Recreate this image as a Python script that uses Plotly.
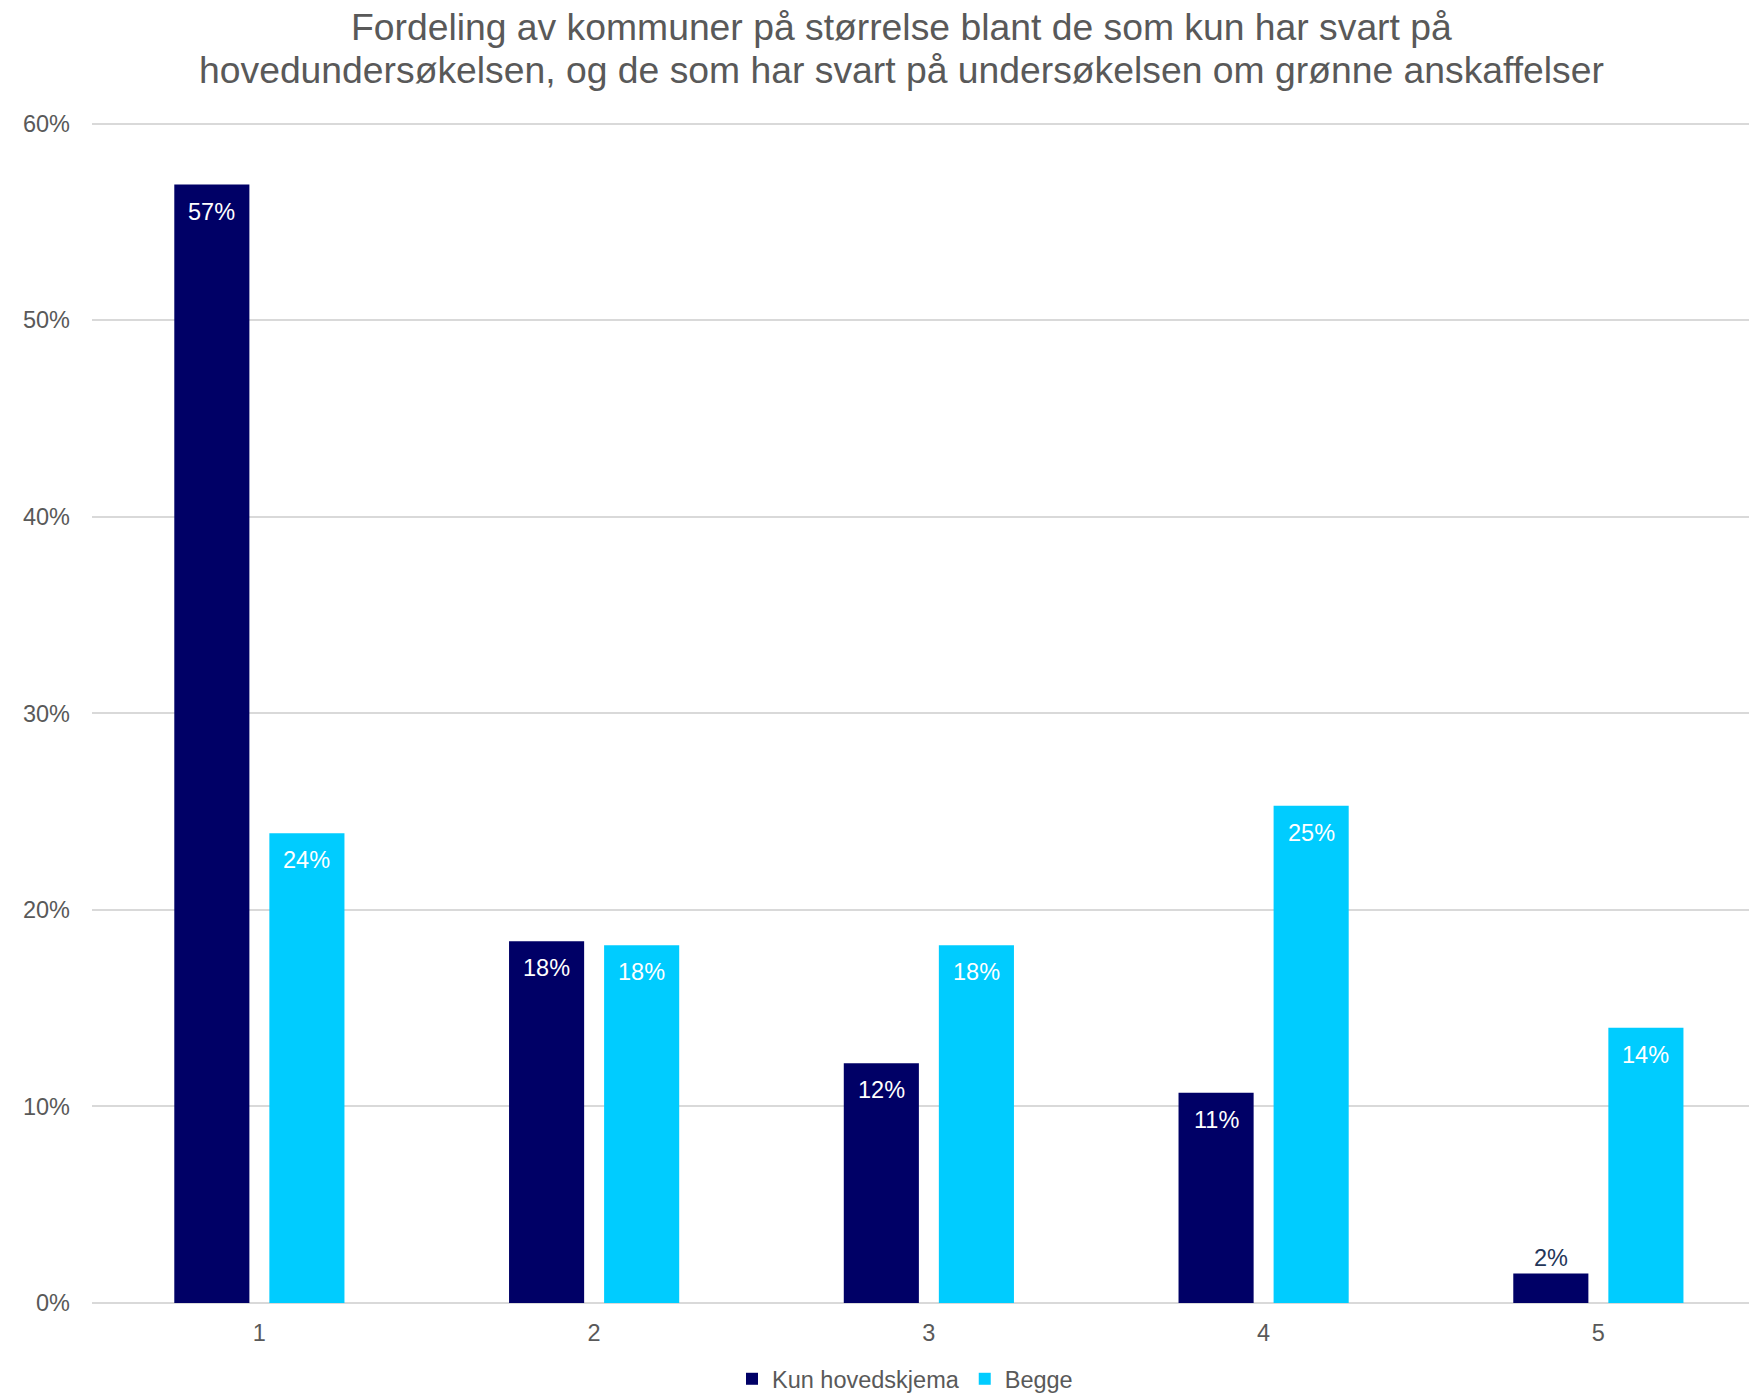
import plotly.graph_objects as go

categories = [1, 2, 3, 4, 5]
tick_labels = ["1", "2", "3", "4", "5"]
kun_hovedskjema = [0.569, 0.184, 0.122, 0.107, 0.015]
begge = [0.239, 0.182, 0.182, 0.253, 0.140]
series_names = ["Kun hovedskjema", "Begge"]
y_ticks = [0, 0.1, 0.2, 0.3, 0.4, 0.5, 0.6]
title_lines = ["Fordeling av kommuner på størrelse blant de som kun har svart på",
               "hovedundersøkelsen, og de som har svart på undersøkelsen om grønne anskaffelser"]

DARK = "#000066"
LIGHT = "#00CCFF"
GRAY = "#595959"
FONT = "Arial, Liberation Sans, sans-serif"
FS = 23.5
OFFSET = 0.142

W, H = 1749, 1396
ML, MR, MT, MB = 92, 0, 104, 93
PW, PH = W - ML - MR, H - MT - MB

fig = go.Figure()
fig.add_trace(go.Bar(x=categories, y=kun_hovedskjema, name=series_names[0],
                     marker=dict(color=DARK, line=dict(width=0))))
fig.add_trace(go.Bar(x=categories, y=begge, name=series_names[1],
                     marker=dict(color=LIGHT, line=dict(width=0))))

annotations = []
for vals, off in ((kun_hovedskjema, -OFFSET), (begge, OFFSET)):
    for c, v in zip(categories, vals):
        inside = v > 0.05
        annotations.append(dict(
            x=c + off, y=v, xref="x", yref="y", text=f"{round(v*100):.0f}%",
            showarrow=False, yanchor="middle",
            yshift=-27 if inside else 16,
            font=dict(family=FONT, size=FS, color="white" if inside else "#243659"),
        ))

for line, yc in zip(title_lines, (27, 70)):
    annotations.append(dict(
        x=(901 - ML) / PW, y=(H - MB - yc) / PH, xref="paper", yref="paper",
        text=line, showarrow=False, xanchor="center", yanchor="middle",
        font=dict(family=FONT, size=37.3, color=GRAY),
    ))

fig.update_layout(
    width=W, height=H,
    paper_bgcolor="white", plot_bgcolor="white",
    margin=dict(l=ML, r=MR, t=MT, b=MB, autoexpand=False),
    barmode="group", bargap=0.432, bargroupgap=0.21,
    font=dict(family=FONT, color=GRAY, size=FS),
    xaxis=dict(
        range=[0.5, 5.45], tickmode="array", tickvals=categories, ticktext=tick_labels,
        showgrid=False, zeroline=False, showline=False, ticks="",
        tickfont=dict(size=FS, color=GRAY), ticklabelstandoff=13, automargin=False,
    ),
    yaxis=dict(
        range=[0, 0.61], tickmode="array", tickvals=y_ticks, tickformat=".0%",
        showgrid=True, gridcolor="#D9D9D9", gridwidth=2,
        zeroline=True, zerolinecolor="#D9D9D9", zerolinewidth=2,
        showline=False, ticks="", tickfont=dict(size=FS, color=GRAY),
        ticklabelstandoff=21, automargin=False,
    ),
    legend=dict(
        orientation="h", xref="container", yref="container",
        x=905 / W, xanchor="center", y=(H - 1379) / H, yanchor="middle",
        font=dict(size=FS, color=GRAY), itemwidth=30, traceorder="normal",
    ),
    annotations=annotations,
)

fig.write_html("out.html", config={"displayModeBar": False},
               post_script="document.body.style.margin='0';document.body.style.overflow='hidden';")
